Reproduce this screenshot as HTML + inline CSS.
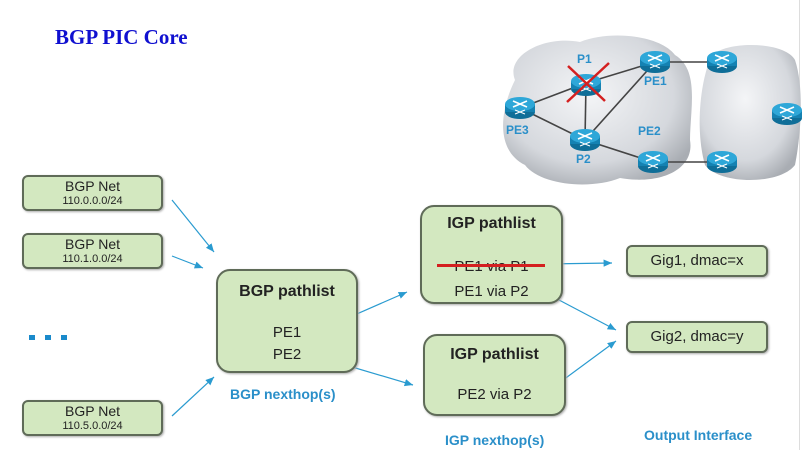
<!DOCTYPE html>
<html><head><meta charset="utf-8"><style>
body{margin:0;width:807px;height:450px;background:#fff;position:relative;overflow:hidden;font-family:"Liberation Sans",sans-serif}
.b{position:absolute;background:#d3e8c0;border:2px solid #5f6b58;border-radius:6px;box-sizing:border-box;text-align:center;color:#222;box-shadow:1px 1px 2px #aaa}
.t{position:absolute;white-space:nowrap}
.lbl{position:absolute;color:#2a8fc9;font-weight:bold;font-size:14px;white-space:nowrap}
</style></head><body>
<div class="t" style="left:55px;top:25px;font:bold 21px 'Liberation Serif',serif;color:#1010d0">BGP PIC Core</div>
<div style="position:absolute;left:799px;top:0;width:1px;height:450px;background:#ddd"></div>

<svg width="807" height="450" style="position:absolute;left:0;top:0">
<defs>
<radialGradient id="cg" cx="45%" cy="40%" r="65%"><stop offset="0" stop-color="#f4f5f7"/><stop offset="0.7" stop-color="#d5d8dd"/><stop offset="1" stop-color="#a9adb3"/></radialGradient>
<marker id="ar" markerWidth="8" markerHeight="8" refX="7" refY="3" orient="auto"><path d="M0,0 L7,3 L0,6z" fill="#2a9bd0"/></marker>
<g id="rt"><ellipse cx="0" cy="6" rx="15" ry="7" fill="#0f6e98"/><rect x="-15" y="-2" width="30" height="8" fill="#1582b2"/><ellipse cx="0" cy="-2" rx="15" ry="7" fill="#2ea7d8"/><path d="M-7,-5 L7,1 M-7,1 L7,-5" stroke="#fff" stroke-width="1.6"/><path d="M-5,4 L5,8 M-5,8 L5,4" stroke="#fff" stroke-width="1"/></g>
</defs>
<path d="M515,80 C505,55 545,35 580,42 C610,30 660,35 675,55 C700,70 690,110 690,140 C695,170 660,185 620,178 C590,190 540,185 525,165 C495,150 500,110 515,80z" fill="url(#cg)"/>
<path d="M712,55 C730,40 785,42 795,60 C805,90 800,140 795,165 C780,185 720,185 705,165 C695,130 700,80 712,55z" fill="url(#cg)"/>
<g stroke="#444" stroke-width="1.6">
<line x1="655" y1="62" x2="722" y2="62"/><line x1="653" y1="162" x2="722" y2="162"/>
<line x1="586" y1="83" x2="655" y2="62"/><line x1="586" y1="83" x2="520" y2="108"/><line x1="586" y1="83" x2="585" y2="140"/>
<line x1="520" y1="108" x2="585" y2="140"/><line x1="585" y1="140" x2="655" y2="62"/><line x1="585" y1="140" x2="653" y2="162"/>
</g>
<use href="#rt" x="586" y="83"/><use href="#rt" x="655" y="60"/><use href="#rt" x="520" y="106"/><use href="#rt" x="585" y="138"/><use href="#rt" x="653" y="160"/><use href="#rt" x="722" y="60"/><use href="#rt" x="722" y="160"/><use href="#rt" x="787" y="112"/>
<path d="M568,66 L605,101 M609,63 L567,102" stroke="#d42020" stroke-width="2.5"/>
<g fill="#2a8fc9" font-family="Liberation Sans" font-weight="bold" font-size="12">
<text x="577" y="63">P1</text><text x="644" y="85">PE1</text><text x="506" y="134">PE3</text><text x="576" y="163">P2</text><text x="638" y="135">PE2</text></g>
<g stroke="#2a9bd0" stroke-width="1.2" marker-end="url(#ar)">
<line x1="172" y1="200" x2="214" y2="252"/><line x1="172" y1="256" x2="203" y2="268"/><line x1="172" y1="416" x2="214" y2="377"/>
<line x1="318" y1="331" x2="407" y2="292"/><line x1="315" y1="356" x2="413" y2="385"/>
<line x1="545" y1="264" x2="612" y2="263"/><line x1="540" y1="290" x2="616" y2="330"/><line x1="540" y1="397" x2="616" y2="341"/>
</g>
<g fill="#1a8acb"><rect x="29" y="335" width="6" height="5"/><rect x="45" y="335" width="6" height="5"/><rect x="61" y="335" width="6" height="5"/></g>
</svg>

<div class="b" style="left:22px;top:175px;width:141px;height:36px"><div style="font-size:14px;line-height:16px;margin-top:1px">BGP Net</div><div style="font-size:11px;line-height:14px">110.0.0.0/24</div></div>
<div class="b" style="left:22px;top:233px;width:141px;height:36px"><div style="font-size:14px;line-height:16px;margin-top:1px">BGP Net</div><div style="font-size:11px;line-height:14px">110.1.0.0/24</div></div>
<div class="b" style="left:22px;top:400px;width:141px;height:36px"><div style="font-size:14px;line-height:16px;margin-top:1px">BGP Net</div><div style="font-size:11px;line-height:14px">110.5.0.0/24</div></div>

<div class="b" style="left:216px;top:269px;width:142px;height:104px;border-radius:14px"><div style="font-size:16px;font-weight:bold;margin-top:12px">BGP pathlist</div><div style="font-size:15px;margin-top:21px;line-height:22px">PE1<br>PE2</div></div>
<div class="b" style="left:420px;top:205px;width:143px;height:99px;border-radius:14px"><div style="font-size:16px;font-weight:bold;margin-top:8px">IGP pathlist</div><div style="font-size:15px;margin-top:21px;line-height:25px">PE1 via P1<br>PE1 via P2</div></div>
<div style="position:absolute;left:437px;top:264px;width:108px;height:3px;background:#d42020"></div>
<div class="b" style="left:423px;top:334px;width:143px;height:82px;border-radius:14px"><div style="font-size:16px;font-weight:bold;margin-top:10px">IGP pathlist</div><div style="font-size:15px;margin-top:22px">PE2 via P2</div></div>
<div class="b" style="left:626px;top:245px;width:142px;height:32px;line-height:28px;font-size:15px">Gig1, dmac=x</div>
<div class="b" style="left:626px;top:321px;width:142px;height:32px;line-height:28px;font-size:15px">Gig2, dmac=y</div>

<div class="lbl" style="left:230px;top:386px">BGP nexthop(s)</div>
<div class="lbl" style="left:445px;top:432px">IGP nexthop(s)</div>
<div class="lbl" style="left:644px;top:427px">Output Interface</div>
</body></html>
